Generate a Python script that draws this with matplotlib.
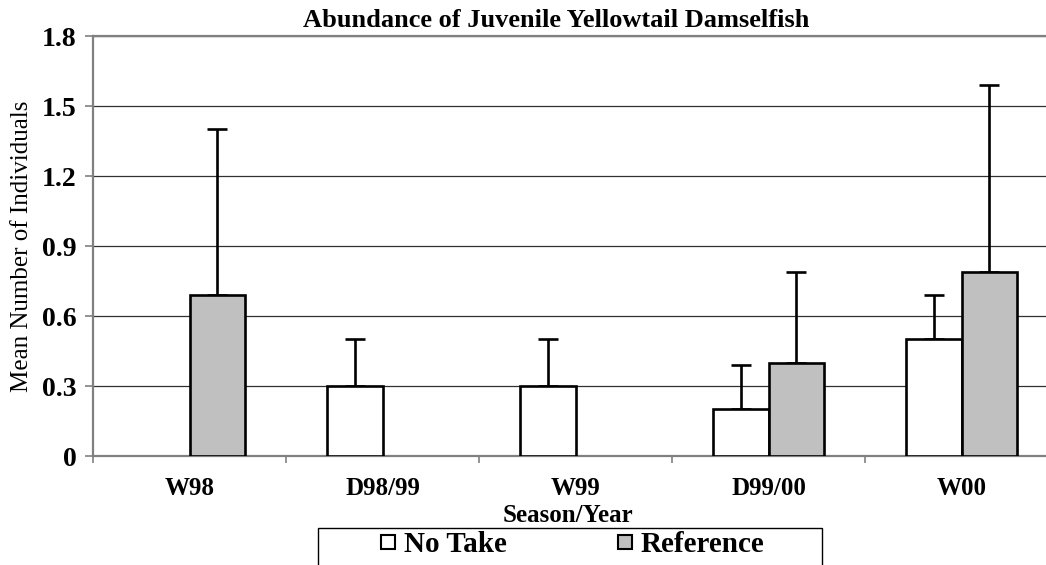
import matplotlib.pyplot as plt
import numpy as np
from matplotlib.lines import Line2D
from matplotlib.patches import Rectangle

plt.rcParams['font.family'] = ['Liberation Serif', 'DejaVu Serif']

seasons = ['W98', 'D98/99', 'W99', 'D99/00', 'W00']
no_take = [0, 0.3, 0.3, 0.2, 0.5]
no_take_err = [0, 0.2, 0.2, 0.19, 0.19]
reference = [0.69, 0, 0, 0.4, 0.79]
reference_err = [0.71, 0, 0, 0.39, 0.8]
y_ticks = [0, 0.3, 0.6, 0.9, 1.2, 1.5, 1.8]
y_tick_labels = ['0', '0.3', '0.6', '0.9', '1.2', '1.5', '1.8']

fig = plt.figure(figsize=(10.46, 5.65), dpi=100)
ax = fig.add_axes([93 / 1046, 109 / 565, 965 / 1046, 420 / 565])

x = np.arange(len(seasons))
w = 0.285
# zero bars get no outline so they don't show as a line on the axis
ax.bar(x - w / 2, no_take, w, color='white', edgecolor='black',
       linewidth=np.where(np.array(no_take) > 0, 1.9, 0), zorder=3)
ax.bar(x + w / 2, reference, w, color='#c0c0c0', edgecolor='black',
       linewidth=np.where(np.array(reference) > 0, 1.9, 0), zorder=3)

# only upper error bars, skip empty ones
for xs, vals, errs in [(x - w / 2, no_take, no_take_err), (x + w / 2, reference, reference_err)]:
    for xi, v, e in zip(xs, vals, errs):
        if e > 0:
            ax.errorbar(xi, v, yerr=[[0], [e]], fmt='none', ecolor='black',
                        elinewidth=1.9, capsize=7.5, capthick=1.9, zorder=2)

ax.set_xlim(-0.5, len(seasons) - 0.5)
ax.set_ylim(0, 1.8)
ax.set_yticks(y_ticks)
ax.set_yticklabels(y_tick_labels, fontsize=20, fontweight='bold')
ax.set_xticks(x)
ax.set_xticklabels(seasons, fontsize=18, fontweight='bold')
ax.set_xticks(np.arange(len(seasons) + 1) - 0.5, minor=True)
ax.tick_params(axis='x', which='major', length=0, pad=15)
ax.tick_params(axis='x', which='minor', length=5, color='#808080', width=1.2)
ax.tick_params(axis='y', length=6, color='#808080', width=1.2, pad=6)

ax.yaxis.grid(True, color='#303030', linewidth=0.9, zorder=0)
ax.set_axisbelow(True)
for s in ax.spines.values():
    s.set_color('#808080')
    s.set_linewidth(1.6)

ax.set_ylabel('Mean Number of Individuals', fontsize=18)
ax.yaxis.set_label_coords(-0.062, 0.5)
ax.set_xlabel('Season/Year', fontsize=18, fontweight='bold')
ax.xaxis.set_label_coords(0.492, -0.115)

fig.text(556 / 1046, 1 - 27 / 565, 'Abundance of Juvenile Yellowtail Damselfish',
         ha='center', va='baseline', fontsize=19, fontweight='bold')

handles = [Line2D([], [], marker='s', ls='none', markersize=10, markerfacecolor='white',
                  markeredgecolor='black', markeredgewidth=1.5),
           Line2D([], [], marker='s', ls='none', markersize=10, markerfacecolor='#c0c0c0',
                  markeredgecolor='black', markeredgewidth=1.5)]
leg = fig.legend(handles, ['No Take', 'Reference'], ncol=2, loc='center',
                 bbox_to_anchor=(571 / 1046, 20 / 565), frameon=False,
                 prop={'size': 21, 'weight': 'bold'}, handlelength=0.7,
                 handletextpad=0.2, columnspacing=3.7, borderpad=0, borderaxespad=0)
fig.patches.append(Rectangle((318 / 1046, -0.02), 504 / 1046, 37 / 565 + 0.02,
                             transform=fig.transFigure, fill=False,
                             edgecolor='black', linewidth=1.0))

fig.savefig('out.png', dpi=100)
